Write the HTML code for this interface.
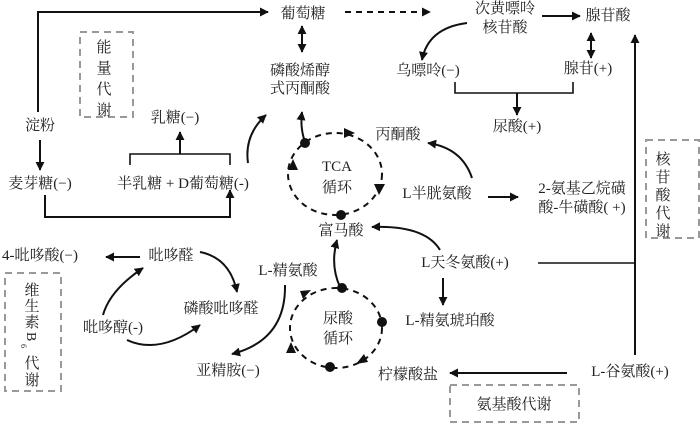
<!DOCTYPE html>
<html><head><meta charset="utf-8"><style>
html,body{margin:0;padding:0;background:#fff;}
svg{display:block;}
text{font-family:"Liberation Serif","Noto Serif CJK SC",serif;font-size:15px;fill:#222;}
</style></head><body>
<svg width="700" height="425" viewBox="0 0 700 425" xmlns="http://www.w3.org/2000/svg">
<defs>
<marker id="a" viewBox="0 0 10 10" refX="9" refY="5" markerWidth="9" markerHeight="9" markerUnits="userSpaceOnUse" orient="auto-start-reverse"><path d="M0,0 L10,5 L0,10 z" fill="#111"/></marker>
</defs>
<g stroke="#111" stroke-width="2" fill="none">
<polyline points="38,112 38,12 268,12" marker-end="url(#a)"/>
<line x1="40" y1="140" x2="40" y2="170" marker-end="url(#a)"/>
<polyline points="45,195 45,217 230,217 230,190" marker-end="url(#a)"/>
<polyline points="130,165 130,154 230,154 230,165" stroke-width="1.6"/>
<line x1="180" y1="154" x2="180" y2="132" marker-end="url(#a)"/>
<path d="M248,163 Q244,135 266,115" marker-end="url(#a)"/>
<line x1="302" y1="26" x2="302" y2="52" marker-start="url(#a)" marker-end="url(#a)"/>
<path d="M305,142 Q300,128 302,112" marker-end="url(#a)"/>
<line x1="345" y1="12" x2="430" y2="12" stroke-dasharray="6,5" marker-end="url(#a)"/>
<line x1="542" y1="16" x2="580" y2="16" marker-end="url(#a)"/>
<path d="M467,23 Q428,28 422,60" marker-end="url(#a)"/>
<line x1="591" y1="33" x2="591" y2="58" marker-start="url(#a)" marker-end="url(#a)"/>
<polyline points="455,82 455,93 573,93 573,82" stroke-width="1.6"/>
<line x1="517" y1="93" x2="517" y2="115" marker-end="url(#a)"/>
<line x1="635" y1="355" x2="635" y2="35" marker-end="url(#a)"/>
<line x1="538" y1="263" x2="635" y2="263" stroke-width="1.6"/>
<ellipse cx="335" cy="174" rx="47" ry="41" stroke-dasharray="6,5"/>
<path d="M472,178 Q462,148 428,143" marker-end="url(#a)"/>
<line x1="488" y1="197" x2="518" y2="197" marker-end="url(#a)"/>
<path d="M440,250 Q425,225 372,227" marker-end="url(#a)"/>
<line x1="443" y1="278" x2="443" y2="305" marker-end="url(#a)"/>
<path d="M340,287 Q330,265 337,240" marker-end="url(#a)"/>
<line x1="567" y1="373" x2="450" y2="373" marker-end="url(#a)"/>
<ellipse cx="336" cy="328" rx="46" ry="40" stroke-dasharray="6,5"/>
<line x1="140" y1="257" x2="106" y2="257" marker-end="url(#a)"/>
<path d="M200,252 Q230,258 237,292" marker-end="url(#a)"/>
<path d="M103,315 Q110,290 143,268" marker-end="url(#a)"/>
<path d="M127,340 Q160,355 200,325" marker-end="url(#a)"/>
<path d="M285,285 Q286,340 232,354" marker-end="url(#a)"/>
</g>
<g fill="#111">
<path d="M344,128 L355,133 L344,138 z"/>
<path d="M374,184 L379,195 L385,184 z"/>
<path d="M288,170 L293,159 L298,170 z"/>
<circle cx="305" cy="143" r="5"/>
<circle cx="341" cy="215" r="5"/>
<path d="M300,291 L311,290 L303,299 z"/>
<path d="M364,354 L356,364 L368,362 z"/>
<path d="M286,353 L291,342 L296,353 z"/>
<circle cx="342" cy="288" r="5"/>
<circle cx="382" cy="322" r="5"/>
<circle cx="330" cy="367" r="5"/>
</g>
<g stroke="#999" stroke-width="2" fill="none" stroke-dasharray="7,5">
<rect x="80" y="32" width="53" height="85"/>
<rect x="646" y="140" width="53" height="98"/>
<rect x="5" y="273" width="56" height="118"/>
<rect x="450" y="385" width="129" height="37"/>
</g>
<g text-anchor="middle">
<text x="303" y="18">葡萄糖</text>
<text x="505" y="13">次黄嘌呤</text>
<text x="505" y="32">核苷酸</text>
<text x="608" y="20">腺苷酸</text>
<text x="300" y="75">磷酸烯醇</text>
<text x="300" y="93">式丙酮酸</text>
<text x="428" y="75">乌嘌呤(−)</text>
<text x="588" y="73">腺苷(+)</text>
<text x="517" y="131">尿酸(+)</text>
<text x="398" y="139">丙酮酸</text>
<text x="337" y="171">TCA</text>
<text x="337" y="192">循环</text>
<text x="437" y="198">L半胱氨酸</text>
<text x="582" y="193">2-氨基乙烷磺</text>
<text x="582" y="212">酸-牛磺酸( +)</text>
<text x="341" y="235">富马酸</text>
<text x="40" y="130">淀粉</text>
<text x="40" y="188">麦芽糖(−)</text>
<text x="183" y="188">半乳糖 + D葡萄糖(-)</text>
<text x="175" y="122">乳糖(−)</text>
<text x="40" y="260">4-吡哆酸(−)</text>
<text x="171" y="260">吡哆醛</text>
<text x="288" y="275">L-精氨酸</text>
<text x="465" y="267">L天冬氨酸(+)</text>
<text x="221" y="313">磷酸吡哆醛</text>
<text x="113" y="332">吡哆醇(-)</text>
<text x="450" y="325">L-精氨琥珀酸</text>
<text x="338" y="323">尿酸</text>
<text x="338" y="343">循环</text>
<text x="228" y="375">亚精胺(−)</text>
<text x="408" y="379">柠檬酸盐</text>
<text x="630" y="376">L-谷氨酸(+)</text>
<text x="514" y="409">氨基酸代谢</text>
<text x="104" y="52">能</text>
<text x="104" y="73">量</text>
<text x="104" y="94">代</text>
<text x="104" y="115">谢</text>
<text x="663" y="164">核</text>
<text x="663" y="182">苷</text>
<text x="663" y="200">酸</text>
<text x="663" y="218">代</text>
<text x="663" y="236">谢</text>
<text x="32" y="295">维</text>
<text x="32" y="311">生</text>
<text x="32" y="327">素</text>
<text x="32" y="368">代</text>
<text x="32" y="385">谢</text>
</g>
<text x="0" y="0" transform="translate(27,332) rotate(90)" style="font-size:14px">B</text>
<text x="0" y="0" transform="translate(21,344) rotate(90)" style="font-size:8px">6</text>
</svg>
</body></html>
